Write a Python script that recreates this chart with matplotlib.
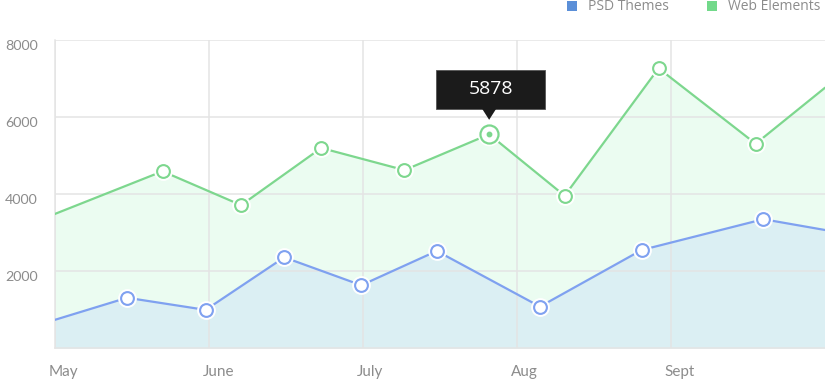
import matplotlib
matplotlib.use("Agg")
import matplotlib.pyplot as plt
import matplotlib.transforms as mtransforms
from matplotlib.patches import Polygon, Rectangle

# Data (x in month units, May = 0)
months = ["May", "June", "July", "Aug", "Sept"]
web_x = [0, 0.70, 1.21, 1.73, 2.27, 2.82, 3.31, 3.92, 4.55, 5.0]
web_vals = [3480, 4590, 3710, 5195, 4620, 5550, 3955, 7265, 5305, 6760]
psd_x = [0, 0.47, 0.98, 1.49, 1.99, 2.48, 3.15, 3.81, 4.60, 5.0]
psd_vals = [730, 1305, 990, 2355, 1630, 2520, 1075, 2545, 3345, 3065]
y_ticks = [2000, 4000, 6000, 8000]
highlight_idx = 5
tooltip_text = "5878"

GREEN = "#7dd78e"
GREEN_FILL = "#ebfcf1"
BLUE = "#7fa1f0"
BLUE_FILL = "#dbeff3"
GRID = "#e4e4e4"
TICK = "#8c8c8c"

W, H, DPI = 825, 379, 100
fig = plt.figure(figsize=(W / DPI, H / DPI), dpi=DPI)
ax = fig.add_axes([54.7 / W, 1 - 348 / H, (W - 54.7) / W, (348 - 40) / H])

# Areas
ax.fill_between(web_x, web_vals, color=GREEN_FILL, zorder=1, lw=0)
ax.fill_between(psd_x, psd_vals, color=BLUE_FILL, zorder=1.1, lw=0)

# Grid above fills
for v in y_ticks:
    ax.axhline(v, color=GRID, lw=1.1, zorder=1.5)
for i in range(len(months)):
    ax.axvline(i, color=GRID, lw=1.1, zorder=1.5)

# Lines + markers
for xs, vs, col in [(web_x, web_vals, GREEN), (psd_x, psd_vals, BLUE)]:
    ax.plot(xs, vs, color=col, lw=1.6, zorder=3, solid_capstyle="round")
    mx = [x for i, x in enumerate(xs[1:-1], 1) if not (col == GREEN and i == highlight_idx)]
    my = [v for i, v in enumerate(vs[1:-1], 1) if not (col == GREEN and i == highlight_idx)]
    ax.plot(mx, my, ls="none", marker="o", ms=12.5, mfc="white", mec="white", zorder=4)
    ax.plot(mx, my, ls="none", marker="o", ms=9.2, mfc="white", mec=col, mew=1.5, zorder=5)

# Highlighted point
hx, hy = web_x[highlight_idx], web_vals[highlight_idx]
ax.plot(hx, hy, marker="o", ms=16, mfc="white", mec="white", zorder=4)
ax.plot(hx, hy, marker="o", ms=13, mfc="white", mec=GREEN, mew=1.6, zorder=5)
ax.plot(hx, hy, marker="o", ms=3.2, mfc=GREEN, mec=GREEN, zorder=6)

ax.set_xlim(0, 5)
ax.set_ylim(0, 8000)
ax.set_xticks(range(len(months)))
ax.set_xticklabels(months, family="Lato", fontsize=11, color=TICK, ha="left")
ax.set_yticks(y_ticks)
ax.set_yticklabels([str(v) for v in y_ticks], family="Lato", fontsize=10.3, color=TICK)
ax.tick_params(axis="both", length=0)
ax.tick_params(axis="y", pad=12)
ax.tick_params(axis="x", pad=12)
for lbl in ax.get_xticklabels():
    lbl.set_transform(lbl.get_transform() + mtransforms.ScaledTranslation(-6 / DPI, 0, fig.dpi_scale_trans))
for lbl in ax.get_yticklabels():
    lbl.set_transform(lbl.get_transform() + mtransforms.ScaledTranslation(0, -5 / DPI, fig.dpi_scale_trans))

for s in ["top", "right"]:
    ax.spines[s].set_visible(False)
for s in ["left", "bottom"]:
    ax.spines[s].set_color(GRID)
    ax.spines[s].set_linewidth(1.1)
    ax.spines[s].set_zorder(1.6)

# Tooltip (pixel offsets from the highlighted point)
px, py = ax.transData.transform((hx, hy))
box = [(px - 53.6, py + 25), (px + 55.4, py + 25), (px + 55.4, py + 64.6), (px - 53.6, py + 64.6)]
ax.add_patch(Polygon(box, closed=True, transform=mtransforms.IdentityTransform(),
                     fc="#1b1b1b", ec="#555555", lw=0.6, zorder=8, clip_on=False))
tri = [(px - 7, py + 25.5), (px + 7, py + 25.5), (px, py + 14.5)]
ax.add_patch(Polygon(tri, closed=True, transform=mtransforms.IdentityTransform(),
                     fc="#1b1b1b", ec="none", zorder=8, clip_on=False))
fig.text((px + 1.4) / W, (py + 45) / H, tooltip_text, color="white", fontsize=14,
         family="Open Sans", ha="center", va="center", zorder=9)

# Legend
fig.patches.append(Rectangle((567.3 / W, 1 - 11 / H), 10 / W, 10 / H, transform=fig.transFigure,
                             fc="#5b8fd8", ec="none"))
fig.text(588 / W, 1 - 6 / H, "PSD Themes", color="#8c8c8c", fontsize=10,
         family="Open Sans", ha="left", va="center")
fig.patches.append(Rectangle((706.7 / W, 1 - 11 / H), 10 / W, 10 / H, transform=fig.transFigure,
                             fc="#72d98a", ec="none"))
fig.text(727.7 / W, 1 - 6 / H, "Web Elements", color="#8c8c8c", fontsize=10,
         family="Open Sans", ha="left", va="center")

fig.savefig("out.png", dpi=DPI)
